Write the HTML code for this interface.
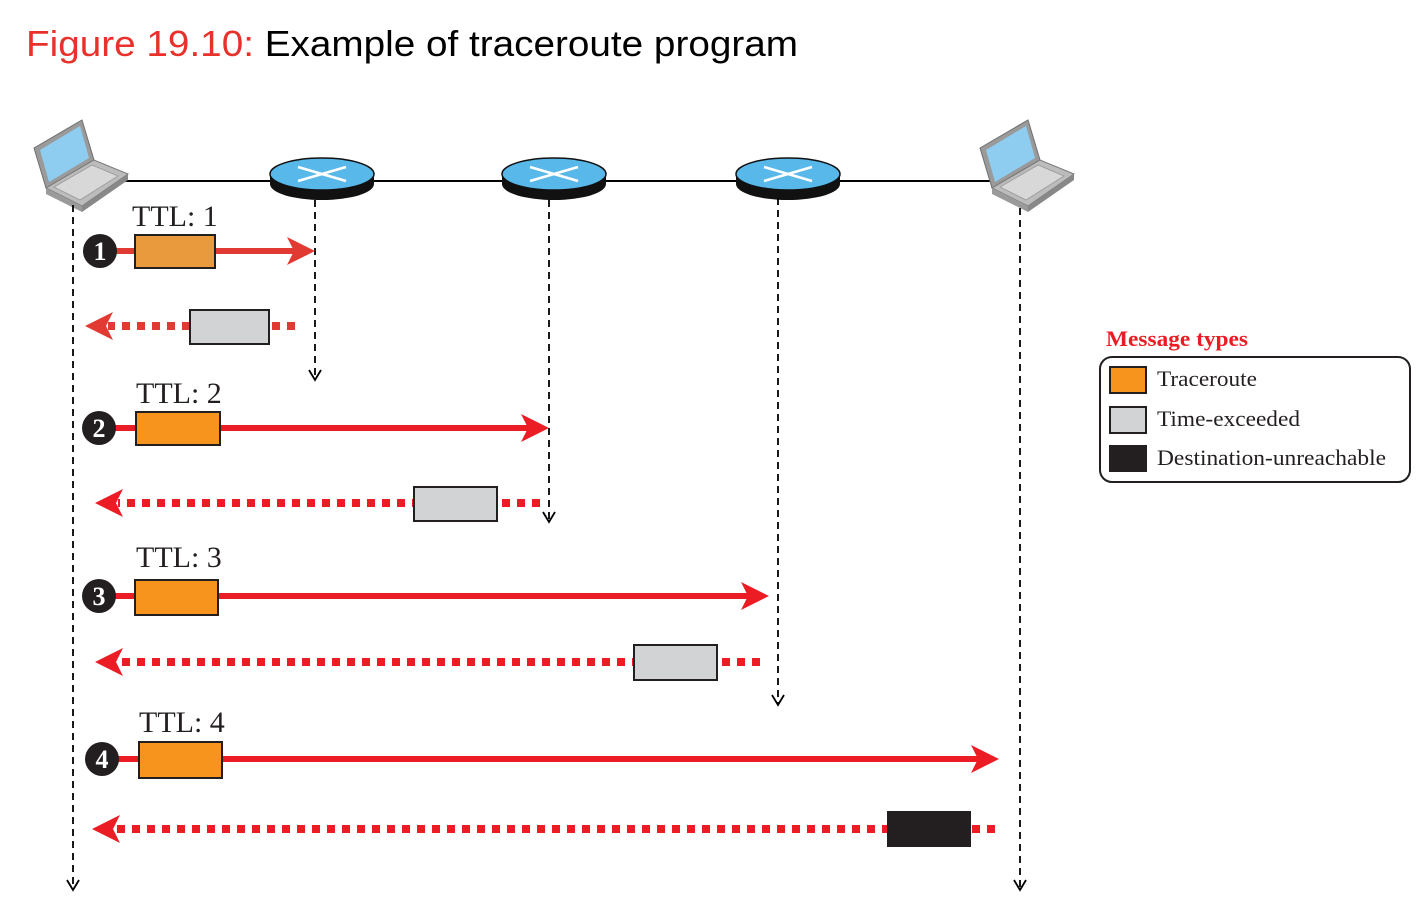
<!DOCTYPE html>
<html><head><meta charset="utf-8"><style>
html,body{margin:0;padding:0;background:#fff}
svg{display:block}
</style></head><body>
<svg width="1428" height="900" viewBox="0 0 1428 900" xmlns="http://www.w3.org/2000/svg">
<defs>
<g id="laptop">
  <polygon points="0,28 48,0 60,40 12,68" fill="#9a9a9a" stroke="#6f6f6f" stroke-width="1"/>
  <polygon points="6,30 46,6 55,38 15,62" fill="#8fcdf0"/>
  <polygon points="12,68 60,40 94,54 48,86" fill="#bcbcbc" stroke="#777" stroke-width="1"/>
  <polygon points="48,86 94,54 94,60 48,92" fill="#888"/>
  <polygon points="12,68 48,86 48,92 12,74" fill="#9a9a9a"/>
  <polygon points="20,67 58,45 84,56 46,80" fill="#d8d8d8" stroke="#999" stroke-width="0.8"/>
</g>
<g id="router">
  <ellipse cx="0" cy="10" rx="52" ry="16" fill="#111"/>
  <rect x="-52" y="0" width="104" height="10" fill="#111"/>
  <ellipse cx="0" cy="0" rx="52" ry="16" fill="#58b8ea" stroke="#111" stroke-width="1.5"/>
  <line x1="-24" y1="-7" x2="24" y2="7" stroke="#fff" stroke-width="2.5"/>
  <line x1="-24" y1="7" x2="24" y2="-7" stroke="#fff" stroke-width="2.5"/>
</g>
</defs>

<text x="26" y="56" font-family="Liberation Sans, sans-serif" font-size="36" textLength="772" lengthAdjust="spacingAndGlyphs"><tspan fill="#e8312b">Figure 19.10:</tspan><tspan fill="#000"> Example of traceroute program</tspan></text>

<line x1="120" y1="181" x2="995" y2="181" stroke="#000" stroke-width="2"/>
<use href="#laptop" x="34" y="120"/>
<use href="#laptop" x="980" y="120"/>
<use href="#router" x="322" y="174"/>
<use href="#router" x="554" y="174"/>
<use href="#router" x="788" y="174"/>

<g stroke="#000" stroke-width="1.8" stroke-dasharray="7,5" fill="none">
  <line x1="73" y1="205" x2="73" y2="888"/>
  <line x1="1020" y1="208" x2="1020" y2="888"/>
  <line x1="315" y1="200" x2="315" y2="378"/>
  <line x1="549" y1="200" x2="549" y2="520"/>
  <line x1="778" y1="198" x2="778" y2="703"/>
</g>
<g stroke="#000" stroke-width="1.8" fill="none">
  <polyline points="67,880 73,890 79,880"/>
  <polyline points="1014,880 1020,890 1026,880"/>
  <polyline points="309,370 315,380 321,370"/>
  <polyline points="543,512 549,522 555,512"/>
  <polyline points="772,695 778,705 784,695"/>
</g>

<g stroke="#ec1c24" stroke-width="6">
  <line x1="100" y1="251" x2="300" y2="251" stroke="#e03a33"/>
  <line x1="100" y1="428" x2="530" y2="428"/>
  <line x1="100" y1="596" x2="750" y2="596"/>
  <line x1="102" y1="759" x2="980" y2="759"/>
</g>
<g fill="#ec1c24">
  <polygon points="315,251 287,237 294,251 287,265" fill="#e03a33"/>
  <polygon points="549,428 521,414 528,428 521,442"/>
  <polygon points="769,596 741,582 748,596 741,610"/>
  <polygon points="999,759 971,745 978,759 971,773"/>
</g>
<g stroke="#ec1c24" stroke-width="8" stroke-dasharray="8,7">
  <line x1="295" y1="326" x2="108" y2="326" stroke="#e03a33"/>
  <line x1="540" y1="503" x2="118" y2="503"/>
  <line x1="760" y1="662" x2="118" y2="662"/>
  <line x1="995" y1="829" x2="115" y2="829"/>
</g>
<g fill="#ec1c24">
  <polygon points="85,326 113,312 106,326 113,340" fill="#e03a33"/>
  <polygon points="95,503 123,489 116,503 123,517"/>
  <polygon points="95,662 123,648 116,662 123,676"/>
  <polygon points="92,829 120,815 113,829 120,843"/>
</g>

<g stroke="#231f20" stroke-width="2">
  <rect x="135" y="235" width="80" height="33" fill="#e89a3c"/>
  <rect x="190" y="310" width="79" height="34" fill="#d1d3d4"/>
  <rect x="136" y="412" width="84" height="33" fill="#f7941d"/>
  <rect x="414" y="487" width="83" height="34" fill="#d1d3d4"/>
  <rect x="135" y="580" width="83" height="35" fill="#f7941d"/>
  <rect x="634" y="645" width="83" height="35" fill="#d1d3d4"/>
  <rect x="139" y="742" width="83" height="36" fill="#f7941d"/>
  <rect x="888" y="812" width="82" height="34" fill="#231f20"/>
</g>

<g fill="#231f20">
  <circle cx="100" cy="251" r="17"/>
  <circle cx="99" cy="428" r="17"/>
  <circle cx="99" cy="596" r="17"/>
  <circle cx="102" cy="759" r="17"/>
</g>
<g fill="#fff" font-family="Liberation Serif, serif" font-weight="bold" font-size="26" text-anchor="middle">
  <text x="100" y="260">1</text>
  <text x="99" y="437">2</text>
  <text x="99" y="605">3</text>
  <text x="102" y="768">4</text>
</g>

<g fill="#231f20" font-family="Liberation Serif, serif" font-size="30">
  <text x="132" y="226">TTL: 1</text>
  <text x="136" y="403">TTL: 2</text>
  <text x="136" y="567">TTL: 3</text>
  <text x="139" y="732">TTL: 4</text>
</g>

<text x="1106" y="346" fill="#ec1c24" font-family="Liberation Serif, serif" font-weight="bold" font-size="22" textLength="142" lengthAdjust="spacingAndGlyphs">Message types</text>
<rect x="1100" y="357" width="310" height="125" rx="12" fill="#fff" stroke="#231f20" stroke-width="2"/>
<g stroke="#231f20" stroke-width="2">
  <rect x="1110" y="367" width="36" height="26" fill="#f7941d"/>
  <rect x="1110" y="407" width="36" height="26" fill="#d1d3d4"/>
  <rect x="1110" y="446" width="36" height="25" fill="#231f20"/>
</g>
<g fill="#231f20" font-family="Liberation Serif, serif" font-size="22">
  <text x="1157" y="386" textLength="100" lengthAdjust="spacingAndGlyphs">Traceroute</text>
  <text x="1157" y="426" textLength="143" lengthAdjust="spacingAndGlyphs">Time-exceeded</text>
  <text x="1157" y="465" textLength="229" lengthAdjust="spacingAndGlyphs">Destination-unreachable</text>
</g>
</svg>
</body></html>
